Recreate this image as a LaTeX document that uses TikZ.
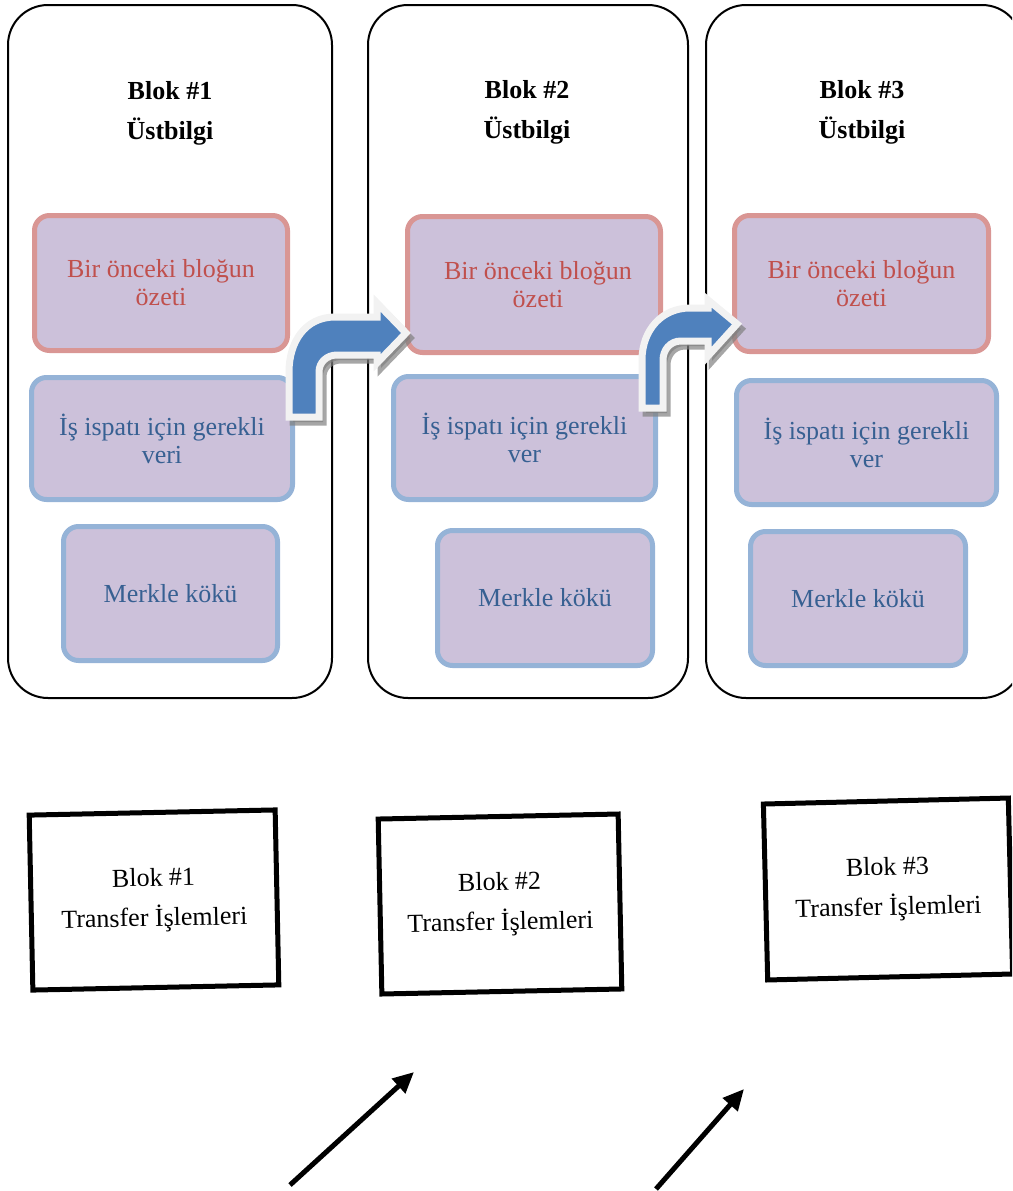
\documentclass[tikz,border=0pt]{standalone}
\usepackage{fontspec}
\setmainfont{Liberation Serif}
\usepackage{tikz}
\usetikzlibrary{arrows.meta}
\definecolor{lav}{HTML}{CCC1DA}
\definecolor{rimred}{HTML}{D99694}
\definecolor{txtred}{HTML}{C0504D}
\definecolor{rimblue}{HTML}{95B3D7}
\definecolor{txtblue}{HTML}{376092}
\definecolor{arrblue}{HTML}{4F81BD}
\definecolor{arrrim}{HTML}{F2F2F2}
\tikzset{
  blok/.style={draw, line width=2pt, rounded corners=40pt, inner sep=0pt},
  baslik/.style={font=\fontsize{26}{40}\selectfont\bfseries, align=center},
  ozet/.style={draw=rimred, fill=lav, line width=5pt, rounded corners=15pt, text=txtred,
    align=center, font=\fontsize{26}{28}\selectfont, inner sep=0pt},
  veri/.style={ozet, draw=rimblue, text=txtblue},
  islem/.style={draw, line width=5pt, align=center, font=\fontsize{26}{40}\selectfont, inner sep=0pt},
  kavis/.style={fill=arrblue, draw=arrrim, line width=7pt},
  golge/.style={fill=black!50, draw=black!50, line width=7pt, opacity=.7, shift={(4,5)}},
  okuc/.style={line width=5pt, -{Triangle[length=21pt,width=19pt]}}
}

\begin{document}
\begin{tikzpicture}[x=1pt,y=-1pt]
  \useasboundingbox (0,0) rectangle (1012,1191);
  \clip (0,0) rectangle (1012,1191);
  % bloklar
  \node[blok, minimum width=324pt, minimum height=693pt] (blok1) at (170,351.5) {};
  \node[blok, minimum width=320pt, minimum height=693pt] (blok2) at (528,351.5) {};
  \node[blok, minimum width=316pt, minimum height=693pt] (blok3) at (864,351.5) {};
  \node[baslik] (bas1) at (170,113) {Blok \#1\\Üstbilgi};
  \node[baslik] (bas2) at (527,112) {Blok \#2\\Üstbilgi};
  \node[baslik] (bas3) at (862,112) {Blok \#3\\Üstbilgi};
  % blok 1
  \node[ozet, minimum width=253pt, minimum height=135pt] (ozet1) at (161,283) {Bir önceki bloğun\\özeti};
  \node[veri, minimum width=261pt, minimum height=122pt] (veri1) at (162,438.5) {İş ispatı için gerekli\\veri};
  \node[veri, minimum width=214pt, minimum height=134pt] (kok1) at (170.5,593.5) {Merkle kökü};
  % blok 2
  \node[ozet, minimum width=253pt, minimum height=136pt] (ozet2) at (534,284.5) {\hspace{8pt}Bir önceki bloğun\\\hspace{8pt}özeti};
  \node[veri, minimum width=262pt, minimum height=123pt] (veri2) at (524.5,438) {İş ispatı için gerekli\\ver};
  \node[veri, minimum width=215pt, minimum height=135pt] (kok2) at (545,598) {Merkle kökü};
  % blok 3
  \node[ozet, minimum width=254pt, minimum height=136pt] (ozet3) at (861.5,283.5) {Bir önceki bloğun\\özeti};
  \node[veri, minimum width=260pt, minimum height=124pt] (veri3) at (866.5,442.5) {İş ispatı için gerekli\\ver};
  \node[veri, minimum width=215pt, minimum height=134pt] (kok3) at (858,598.5) {Merkle kökü};
  % kavisli oklar
  \path[golge] (289,417) -- (289,372) .. controls (289,342) and (305,317) .. (335,317)
    -- (377,317) -- (377,303) -- (406,333) -- (377,363) -- (377,355) -- (337,355)
    .. controls (327,355) and (319,362) .. (319,372) -- (319,417) -- cycle;
  \path[kavis] (289,417) -- (289,372) .. controls (289,342) and (305,317) .. (335,317)
    -- (377,317) -- (377,303) -- (406,333) -- (377,363) -- (377,355) -- (337,355)
    .. controls (327,355) and (319,362) .. (319,372) -- (319,417) -- cycle;
  \path[golge] (642,408) -- (642,360) .. controls (642,330) and (662,308) .. (690,308)
    -- (708,308) -- (708,300) -- (737,324) -- (708,356) -- (708,341) -- (681,341)
    .. controls (670,341) and (663,350) .. (663,360) -- (663,408) -- cycle;
  \path[kavis] (642,408) -- (642,360) .. controls (642,330) and (662,308) .. (690,308)
    -- (708,308) -- (708,300) -- (737,324) -- (708,356) -- (708,341) -- (681,341)
    .. controls (670,341) and (663,350) .. (663,360) -- (663,408) -- cycle;
  % transfer kutulari
  \node[islem, rotate=1.2, minimum width=246pt, minimum height=175pt] (tx1) at (154,900) {Blok \#1\\Transfer İşlemleri};
  \node[islem, rotate=1.2, minimum width=240pt, minimum height=175pt] (tx2) at (500,904) {Blok \#2\\Transfer İşlemleri};
  \node[islem, rotate=1.4, minimum width=245pt, minimum height=176pt] (tx3) at (888,889) {Blok \#3\\Transfer İşlemleri};
  % alt oklar
  \coordinate (ok1b) at (290,1185);
  \coordinate (ok1u) at (414,1072);
  \coordinate (ok2b) at (656,1189);
  \coordinate (ok2u) at (744,1089);
  \draw[okuc] (ok1b) -- (ok1u);
  \draw[okuc] (ok2b) -- (ok2u);
\end{tikzpicture}
\end{document}
